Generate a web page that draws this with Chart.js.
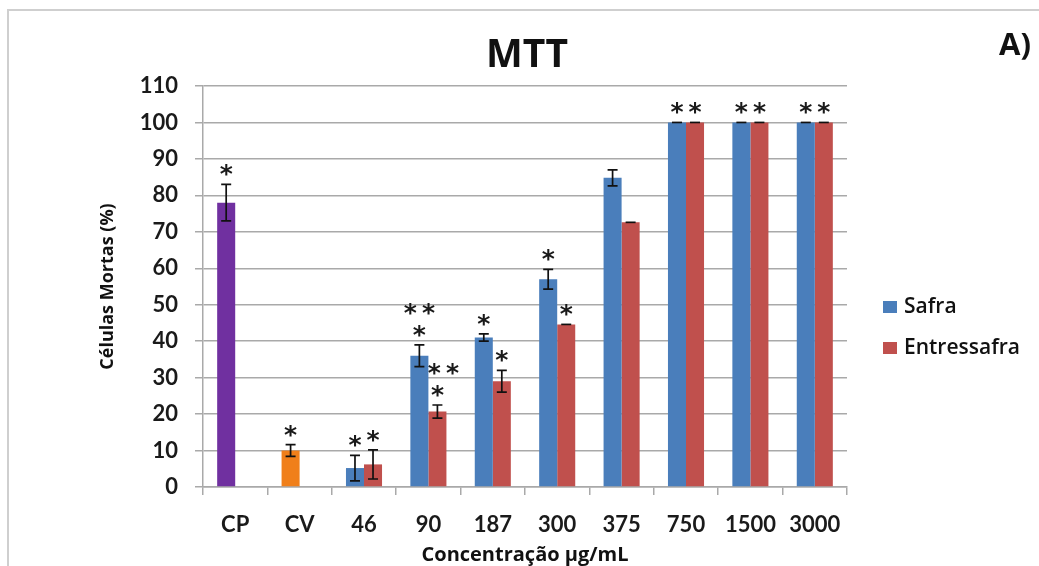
<!DOCTYPE html>
<html>
<head>
<meta charset="utf-8">
<script src="https://cdn.jsdelivr.net/npm/chart.js@4.4.0/dist/chart.umd.min.js"></script>
<style>
  html, body { margin: 0; padding: 0; background: #fff; }
  #wrap { position: relative; width: 1039px; height: 566px; overflow: hidden; }
  #frame { position: absolute; left: 7px; top: 9px; width: 1100px; height: 600px;
           border-top: 2px solid #cfcfcf; border-left: 2px solid #cfcfcf; }
  canvas { position: absolute; left: 0; top: 0; }
</style>
</head>
<body>
<div id="wrap"><div id="frame"></div><canvas id="mttChart" width="1039" height="566"></canvas></div>
<script>
// categories along the x axis (CP / CV controls, then concentrations)
var concentracoes = ["CP", "CV", "46", "90", "187", "300", "375", "750", "1500", "3000"];
// dead cells (%) and error bars
var safra = [78, 10, 5.2, 36, 41, 57, 84.8, 100, 100, 100];
var safraErr = [5, 1.6, 3.5, 3, 1, 2.7, 2.2, 0, 0, 0];
var entressafra = [null, null, 6.2, 20.7, 29, 44.6, 72.6, 100, 100, 100];
var entressafraErr = [null, null, 4, 1.8, 3, 0, 0, 0, 0, 0];
// significance marks, "|" separates lines (top line first)
var safraStars = ["*", "*", "*", "*\u2009*|*", "*", "*", "", "*", "*", "*"];
var entressafraStars = ["", "", "*", "*\u2009*|*", "*", "*", "", "*", "*", "*"];
// y axis ticks
var yMin = 0, yMax = 110, yStep = 10;

var azul = "#4A7EBB", vermelho = "#C0504D";
var safraColors = ["#7030A0", "#F07F1A", azul, azul, azul, azul, azul, azul, azul, azul];
var gridColor = "#a9a9a9";
var tickFont = { family: "Lato", size: 22, weight: "bold" };

// error bars, asterisks, titles and legend
var extras = {
  id: "extras",
  afterDatasetsDraw: function (chart) {
    var ctx = chart.ctx, y = chart.scales.y;
    ctx.save();
    chart.data.datasets.forEach(function (ds, di) {
      var meta = chart.getDatasetMeta(di);
      meta.data.forEach(function (bar, i) {
        var v = ds.data[i];
        if (v === null) return;
        var e = ds.err[i];
        var top = y.getPixelForValue(v + (e || 0));
        if (e !== null) {
          var bot = y.getPixelForValue(v - e);
          ctx.strokeStyle = "#111";
          ctx.lineWidth = 1.7;
          ctx.beginPath();
          ctx.moveTo(bar.x, top); ctx.lineTo(bar.x, bot);
          ctx.moveTo(bar.x - 5, top); ctx.lineTo(bar.x + 5, top);
          if (e > 0) { ctx.moveTo(bar.x - 5, bot); ctx.lineTo(bar.x + 5, bot); }
          ctx.stroke();
        }
        var s = ds.stars[i];
        if (!s) return;
        ctx.font = "bold 25px 'DejaVu Sans'";
        ctx.fillStyle = "#1a1a1a";
        ctx.textAlign = "center";
        ctx.textBaseline = "alphabetic";
        var m = ctx.measureText("*");
        var shift = (m.actualBoundingBoxAscent - m.actualBoundingBoxDescent) / 2;
        var lines = s.split("|").reverse();
        lines.forEach(function (t, k) {
          var cy = top - 14 - k * 22;
          ctx.fillText(t, bar.x + (k > 0 && di === 1 ? 6 : 0), cy + shift);
        });
      });
    });
    ctx.restore();
  },
  afterDraw: function (chart) {
    var ctx = chart.ctx, area = chart.chartArea;
    ctx.save();
    ctx.fillStyle = "#111";
    ctx.textBaseline = "middle";
    ctx.textAlign = "center";
    ctx.font = "bold 39px 'Open Sans'";
    ctx.fillText("MTT", (area.left + area.right) / 2 + 2, 56);
    ctx.textAlign = "left";
    ctx.font = "bold 31px 'Open Sans'";
    ctx.fillText("A)", 999, 46);
    // legend
    var legendColors = [azul, vermelho];
    ctx.font = "600 21px 'Open Sans'";
    chart.data.datasets.forEach(function (ds, di) {
      var cy = 307 + di * 41;
      ctx.fillStyle = legendColors[di];
      ctx.fillRect(883, cy - 6, 14, 12);
      ctx.fillStyle = "#111";
      ctx.fillText(ds.label, 904, cy);
    });
    ctx.restore();
  }
};

var ctx = document.getElementById("mttChart");
var myChart = new Chart(ctx, {
  type: "bar",
  data: {
    labels: concentracoes,
    datasets: [
      {
        label: "Safra",
        data: safra,
        err: safraErr,
        stars: safraStars,
        backgroundColor: safraColors,
        categoryPercentage: 0.56,
        barPercentage: 1
      },
      {
        label: "Entressafra",
        data: entressafra,
        err: entressafraErr,
        stars: entressafraStars,
        backgroundColor: vermelho,
        categoryPercentage: 0.56,
        barPercentage: 1
      }
    ]
  },
  options: {
    responsive: false,
    animation: false,
    layout: { padding: { left: 97, top: 86, right: 192, bottom: 0 } },
    plugins: {
      legend: { display: false },
      tooltip: { enabled: false }
    },
    scales: {
      x: {
        grid: { drawOnChartArea: false, tickLength: 8, color: gridColor, lineWidth: 1.5 },
        border: { color: gridColor, width: 1.5 },
        ticks: { font: tickFont, color: "#1a1a1a", padding: 17, maxRotation: 0, autoSkip: false },
        title: {
          display: true, text: "Concentração µg/mL", color: "#111", padding: 0,
          font: { family: "Open Sans", size: 20, weight: "bold", lineHeight: 22 / 20 }
        },
        afterFit: function (s) { s.height = 566 - 487; }
      },
      y: {
        min: yMin, max: yMax,
        grid: { tickLength: 8, color: gridColor, lineWidth: 1.5 },
        border: { color: gridColor, width: 1.5 },
        ticks: { stepSize: yStep, font: tickFont, color: "#1a1a1a", padding: 17 },
        title: {
          display: true, text: "Células Mortas (%)", color: "#111", padding: 0,
          font: { family: "Open Sans", size: 18, weight: "bold", lineHeight: 1.2 }
        },
        afterFit: function (s) { s.width = 203 - 97; }
      }
    }
  },
  plugins: [extras]
});
</script>
</body>
</html>
